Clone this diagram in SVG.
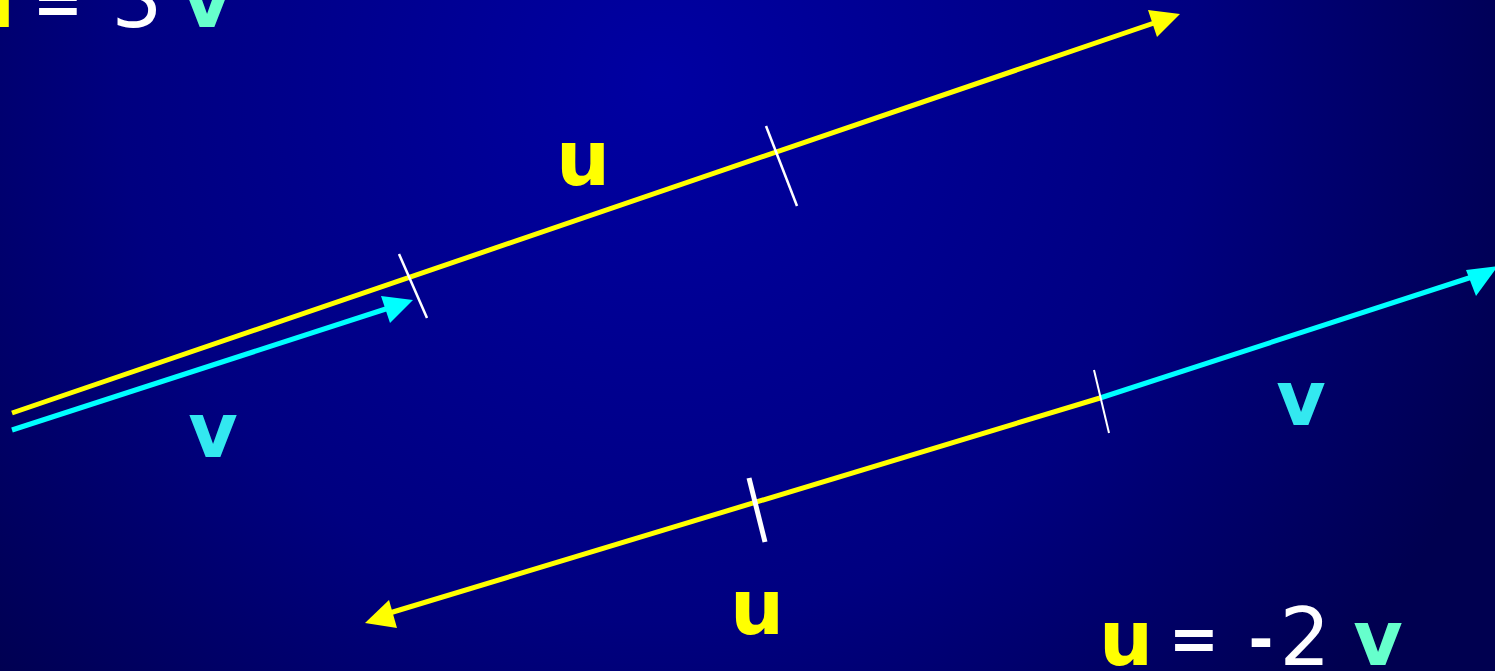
<svg xmlns="http://www.w3.org/2000/svg" width="1495" height="671" viewBox="0 0 1495 671">
<defs>
<radialGradient id="bg" gradientUnits="userSpaceOnUse" cx="660" cy="80" r="900">
<stop offset="0" stop-color="#0000A2"/>
<stop offset="0.6" stop-color="#000080"/>
<stop offset="1" stop-color="#000050"/>
</radialGradient>
<style>
.y{stroke:#FFFF00;stroke-width:5;fill:none}
.c{stroke:#00FFFF;stroke-width:5;fill:none}
.t{stroke:#FFFFFF;fill:none}
.lbl{font-family:"DejaVu Sans",sans-serif;font-size:76px;font-weight:bold;text-anchor:middle}
.w{font-family:"DejaVu Sans",sans-serif;font-size:80px;fill:#FFFFFF;text-anchor:middle}
.eq{font-size:60px;font-weight:bold}
</style>
</defs>
<rect width="1495" height="671" fill="url(#bg)"/>
<g id="connectors">
<line class="y" x1="12" y1="413" x2="1160" y2="21"/>
<polygon fill="#FFFF00" points="1180,14 1148,10 1157,37"/>
<line class="c" x1="12" y1="430" x2="395" y2="306"/>
<polygon fill="#00FFFF" points="413,300 381,296 390,323"/>
<line class="y" x1="383" y1="615" x2="1100" y2="398"/>
<polygon fill="#FFFF00" points="365,623 389,600 397,628"/>
<line class="c" x1="1100" y1="398" x2="1472" y2="277"/>
<polygon fill="#00FFFF" points="1498,266 1466,270 1476,296"/>
<line class="t" stroke-width="2.5" x1="399" y1="254" x2="427" y2="318"/>
<line class="t" stroke-width="2.5" x1="766" y1="126" x2="797" y2="206"/>
<line class="t" stroke-width="5" x1="749" y1="478" x2="765" y2="542"/>
<line class="t" stroke-width="2" x1="1094" y1="370" x2="1109" y2="433"/>
</g>
<g id="label-u-top"><text class="lbl" x="583" y="185" fill="#FFFF00">u</text></g>
<g id="label-v-left"><text class="lbl" x="213" y="457" fill="#33E8F0">v</text></g>
<g id="label-u-bottom"><text class="lbl" x="757" y="634" fill="#FFFF00">u</text></g>
<g id="label-v-right"><text class="lbl" x="1301" y="425" fill="#33E8F0">v</text></g>
<g id="eq-bottom">
<text class="lbl" x="1126" y="665" fill="#FFFF00">u</text>
<text class="w eq" x="1194" y="660">=</text>
<text class="w eq" x="1261" y="660">-</text>
<text class="w" x="1305" y="665">2</text>
<text class="lbl" x="1378" y="665" fill="#66FFCC">v</text>
</g>
<g id="eq-top">
<text class="lbl" x="-12" y="27" fill="#FFFF00">u</text>
<text class="w eq" x="58" y="24">=</text>
<text class="w" x="137" y="27">3</text>
<text class="lbl" x="207" y="27" fill="#66FFCC">v</text>
</g>
</svg>
